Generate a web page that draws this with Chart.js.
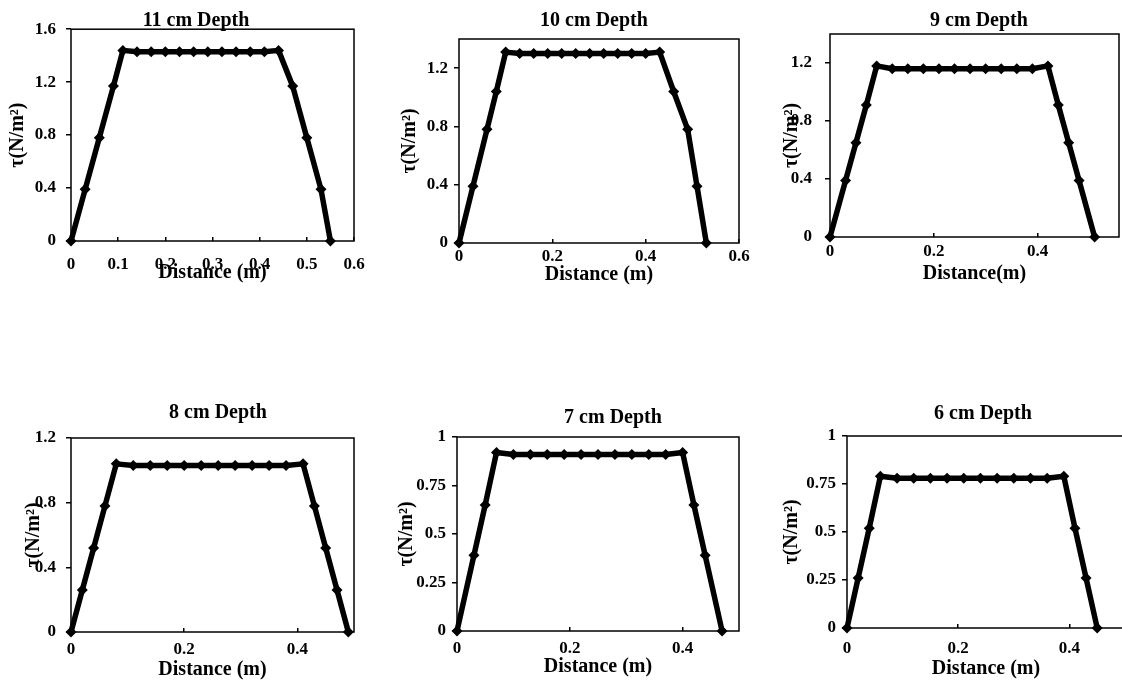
<!DOCTYPE html>
<html>
<head>
<meta charset="utf-8">
<script src="https://cdn.jsdelivr.net/npm/chart.js@4.4.1/dist/chart.umd.min.js"></script>
<style>
  html, body { margin: 0; padding: 0; background: #fff; }
  #wrap { position: relative; width: 1122px; height: 680px; overflow: hidden; }
  #wrap canvas { position: absolute; }
</style>
</head>
<body>
<div id="wrap"></div>
<script>
// values (distance in m, shear stress in N/m²)
const dist11 = [0, 0.03, 0.06, 0.09, 0.11, 0.14, 0.17, 0.20, 0.23, 0.26, 0.29, 0.32, 0.35, 0.38, 0.41, 0.44, 0.47, 0.50, 0.53, 0.55];
const tau11 = [0, 0.39, 0.78, 1.17, 1.44, 1.43, 1.43, 1.43, 1.43, 1.43, 1.43, 1.43, 1.43, 1.43, 1.43, 1.44, 1.17, 0.78, 0.39, 0];

const dist10 = [0, 0.03, 0.06, 0.08, 0.10, 0.13, 0.16, 0.19, 0.22, 0.25, 0.28, 0.31, 0.34, 0.37, 0.40, 0.43, 0.46, 0.49, 0.51, 0.53];
const tau10 = [0, 0.39, 0.78, 1.04, 1.31, 1.30, 1.30, 1.30, 1.30, 1.30, 1.30, 1.30, 1.30, 1.30, 1.30, 1.31, 1.04, 0.78, 0.39, 0];

const dist9 = [0, 0.03, 0.05, 0.07, 0.09, 0.12, 0.15, 0.18, 0.21, 0.24, 0.27, 0.30, 0.33, 0.36, 0.39, 0.42, 0.44, 0.46, 0.48, 0.51];
const tau9 = [0, 0.39, 0.65, 0.91, 1.18, 1.16, 1.16, 1.16, 1.16, 1.16, 1.16, 1.16, 1.16, 1.16, 1.16, 1.18, 0.91, 0.65, 0.39, 0];

const dist8 = [0, 0.02, 0.04, 0.06, 0.08, 0.11, 0.14, 0.17, 0.20, 0.23, 0.26, 0.29, 0.32, 0.35, 0.38, 0.41, 0.43, 0.45, 0.47, 0.49];
const tau8 = [0, 0.26, 0.52, 0.78, 1.04, 1.03, 1.03, 1.03, 1.03, 1.03, 1.03, 1.03, 1.03, 1.03, 1.03, 1.04, 0.78, 0.52, 0.26, 0];

const dist7 = [0, 0.03, 0.05, 0.07, 0.10, 0.13, 0.16, 0.19, 0.22, 0.25, 0.28, 0.31, 0.34, 0.37, 0.40, 0.42, 0.44, 0.47];
const tau7 = [0, 0.39, 0.65, 0.92, 0.91, 0.91, 0.91, 0.91, 0.91, 0.91, 0.91, 0.91, 0.91, 0.91, 0.92, 0.65, 0.39, 0];

const dist6 = [0, 0.02, 0.04, 0.06, 0.09, 0.12, 0.15, 0.18, 0.21, 0.24, 0.27, 0.30, 0.33, 0.36, 0.39, 0.41, 0.43, 0.45];
const tau6 = [0, 0.26, 0.52, 0.79, 0.78, 0.78, 0.78, 0.78, 0.78, 0.78, 0.78, 0.78, 0.78, 0.78, 0.79, 0.52, 0.26, 0];

// tick values
const xTicks11 = [0, 0.1, 0.2, 0.3, 0.4, 0.5, 0.6];
const xTicks10 = [0, 0.2, 0.4, 0.6];
const xTicksSmall = [0, 0.2, 0.4];
const yTicks11 = [0, 0.4, 0.8, 1.2, 1.6];
const yTicks10 = [0, 0.4, 0.8, 1.2];
const yTicks8 = [0, 0.4, 0.8, 1.2];
const yTicksQuarter = [0, 0.25, 0.5, 0.75, 1];

const yTitle = "τ(N/m²)";

// panel layout: plot box [left, top, right, bottom] in page px, title centre, label offsets
const panels = [
  { title: "11 cm Depth", xTitle: "Distance (m)", x: dist11, y: tau11, xTicks: xTicks11, yTicks: yTicks11, xMax: 0.6, yMax: 1.6,
    box: [71, 29, 354, 241], titleAt: [196, 21], yTitleX: 18, yLabelPad: 10, xLabelGap: 24, xTitleGap: 32 },
  { title: "10 cm Depth", xTitle: "Distance (m)", x: dist10, y: tau10, xTicks: xTicks10, yTicks: yTicks10, xMax: 0.6, yMax: 1.4,
    box: [459, 39, 739, 243], titleAt: [594, 21], yTitleX: 410, yLabelPad: 6, xLabelGap: 14, xTitleGap: 32 },
  { title: "9 cm Depth", xTitle: "Distance(m)", x: dist9, y: tau9, xTicks: xTicksSmall, yTicks: yTicks10, xMax: 0.557, yMax: 1.4,
    box: [830, 34, 1119, 237], titleAt: [979, 21], yTitleX: 792, yLabelPad: 13, xLabelGap: 15, xTitleGap: 37 },
  { title: "8 cm Depth", xTitle: "Distance (m)", x: dist8, y: tau8, xTicks: xTicksSmall, yTicks: yTicks8, xMax: 0.5, yMax: 1.2,
    box: [71, 438, 354, 632], titleAt: [218, 413], yTitleX: 34, yLabelPad: 10, xLabelGap: 18, xTitleGap: 38 },
  { title: "7 cm Depth", xTitle: "Distance (m)", x: dist7, y: tau7, xTicks: xTicksSmall, yTicks: yTicksQuarter, xMax: 0.5, yMax: 1,
    box: [457, 437, 739, 631], titleAt: [613, 418], yTitleX: 407, yLabelPad: 6, xLabelGap: 18, xTitleGap: 36 },
  { title: "6 cm Depth", xTitle: "Distance (m)", x: dist6, y: tau6, xTicks: xTicksSmall, yTicks: yTicksQuarter, xMax: 0.5, yMax: 1,
    box: [847, 436, 1125, 628], titleAt: [983, 414], yTitleX: 792, yLabelPad: 6, xLabelGap: 21, xTitleGap: 41 }
];

const FONT = '"Times New Roman", "Liberation Serif", serif';
const TICK_SIZE = 17;
const TITLE_SIZE = 20;
const LH = 1.2;
const Y_AXIS_W = 70;

// frame round the plot area
const plotBox = {
  id: "plotBox",
  beforeDatasetsDraw(chart) {
    const a = chart.chartArea;
    const ctx = chart.ctx;
    ctx.save();
    ctx.strokeStyle = "#000";
    ctx.lineWidth = 1.5;
    ctx.strokeRect(a.left, a.top, a.right - a.left, a.bottom - a.top);
    ctx.restore();
  }
};

const wrap = document.getElementById("wrap");

panels.forEach(p => {
  const [L, T, R, B] = p.box;
  const tHalf = TITLE_SIZE * LH / 2;
  const cLeft = L - Y_AXIS_W;
  const cTop = Math.floor(p.titleAt[1] - tHalf);
  const cW = Math.round(2 * (p.titleAt[0] - cLeft));
  const cH = Math.ceil(B - cTop + p.xTitleGap + tHalf);
  const xH = cH - (B - cTop);
  const rightW = cW - (R - cLeft);
  const titleTop = p.titleAt[1] - tHalf - cTop;

  const canvas = document.createElement("canvas");
  canvas.width = cW;
  canvas.height = cH;
  canvas.style.left = cLeft + "px";
  canvas.style.top = cTop + "px";
  canvas.style.width = cW + "px";
  canvas.style.height = cH + "px";
  wrap.appendChild(canvas);

  new Chart(canvas.getContext("2d"), {
    type: "line",
    data: {
      datasets: [{
        data: p.x.map((v, i) => ({ x: v, y: p.y[i] })),
        borderColor: "#000",
        backgroundColor: "#000",
        borderWidth: 5.5,
        borderJoinStyle: "round",
        tension: 0,
        pointStyle: "rectRot",
        pointRadius: 5.5,
        pointBorderWidth: 0,
        pointBackgroundColor: "#000",
        clip: false
      }]
    },
    options: {
      responsive: false,
      animation: false,
      devicePixelRatio: 1,
      layout: { padding: 0, autoPadding: false },
      plugins: {
        legend: { display: false },
        tooltip: { enabled: false },
        title: {
          display: true,
          text: p.title,
          color: "#000",
          font: { family: FONT, size: TITLE_SIZE, weight: "bold", lineHeight: LH },
          padding: { top: titleTop, bottom: T - cTop - titleTop - TITLE_SIZE * LH }
        }
      },
      scales: {
        x: {
          type: "linear",
          min: 0,
          max: p.xMax,
          afterBuildTicks: s => { s.ticks = p.xTicks.map(v => ({ value: v })); },
          afterFit: s => { s.height = xH; },
          ticks: {
            autoSkip: false,
            maxRotation: 0,
            color: "#000",
            padding: p.xLabelGap + 4 - TICK_SIZE * LH / 2,
            font: { family: FONT, size: TICK_SIZE, weight: "bold" },
            callback: v => String(v)
          },
          grid: { drawOnChartArea: false, drawTicks: true, tickLength: -4, color: "#000", lineWidth: 1.5 },
          border: { display: false },
          title: {
            display: true,
            text: p.xTitle,
            color: "#000",
            font: { family: FONT, size: TITLE_SIZE, weight: "bold", lineHeight: LH },
            padding: { top: 0, bottom: xH - p.xTitleGap - tHalf }
          }
        },
        y: {
          min: 0,
          max: p.yMax,
          afterBuildTicks: s => { s.ticks = p.yTicks.map(v => ({ value: v })); },
          afterFit: s => { s.width = Y_AXIS_W; },
          ticks: {
            color: "#000",
            padding: p.yLabelPad,
            font: { family: FONT, size: TICK_SIZE, weight: "bold" },
            callback: v => String(v)
          },
          grid: { drawOnChartArea: false, drawTicks: true, tickLength: 5, color: "#000", lineWidth: 1.5 },
          border: { display: false },
          title: {
            display: true,
            text: yTitle,
            color: "#000",
            font: { family: FONT, size: TITLE_SIZE, weight: "bold", lineHeight: LH },
            padding: { top: p.yTitleX - cLeft - tHalf, bottom: 0 }
          }
        },
        // empty right-hand axis: only reserves room so the chart title sits where it does in the figure
        yRoom: {
          position: "right",
          display: true,
          ticks: { display: false },
          grid: { display: false },
          border: { display: false },
          afterFit: s => { s.width = rightW; }
        }
      }
    },
    plugins: [plotBox]
  });
});
</script>
</body>
</html>
